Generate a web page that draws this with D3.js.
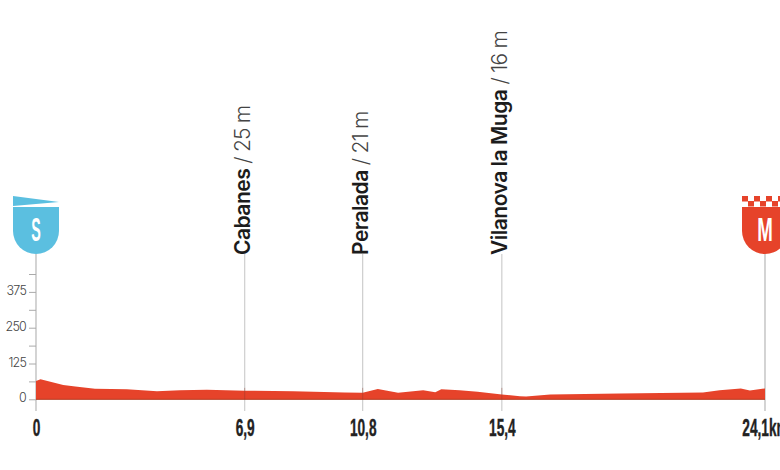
<!DOCTYPE html>
<html>
<head>
<meta charset="utf-8">
<script src="https://cdn.jsdelivr.net/npm/d3@7"></script>
<style>
html, body { margin: 0; padding: 0; background: #fff; overflow: hidden; }
svg { display: block; }
</style>
</head>
<body>
<div id="chart"></div>
<script>
// profile
const profileKm = [0, 0.15, 0.9, 1.3, 1.95, 3, 4, 4.76, 5.65, 6.9, 8.5, 10.2, 10.8, 11.3, 11.97, 12.8, 13.2, 13.4, 14, 14.6, 15.4, 16, 16.2, 17, 19.3, 22.05, 22.6, 23.3, 23.6, 24.1];
const profileElev = [64, 70, 50, 45, 37, 35, 28, 32, 33, 30, 28, 24, 23, 36, 23, 32, 25, 35, 32, 26, 17, 11, 10, 17, 20, 24, 32, 38, 31, 38];

const yTicks = [0, 62.5, 125, 187.5, 250, 312.5, 375, 437.5];
const yLabels = [0, 125, 250, 375];

const places = ["Cabanes", "Peralada", "Vilanova la Muga"];
const placeKm = [6.9, 10.8, 15.4];
const placeAlt = ["25 m", "21 m", "16 m"];

const xTicks = [0, 6.9, 10.8, 15.4, 24.1];
const xLabels = ["0", "6,9", "10,8", "15,4", "24,1km"];

const width = 780, height = 470;
const red = "#e6432a", blue = "#5bbfe0", grey = "#c9c9c9";

const svg = d3.select("#chart").append("svg")
    .attr("width", width)
    .attr("height", height);

const x = d3.scaleLinear().domain([0, 24.1]).range([36, 765]);
const y = d3.scaleLinear().domain([0, 125]).range([399.3, 363.5]);

const guideTop = 254, guideBottom = 411;

// vertical guide lines
svg.selectAll(".guide")
    .data(xTicks)
    .enter().append("line")
    .attr("class", "guide")
    .attr("x1", d => x(d)).attr("x2", d => x(d))
    .attr("y1", guideTop).attr("y2", guideBottom)
    .attr("stroke", grey)
    .attr("stroke-width", d => (d === 0 || d === 24.1) ? 1.6 : 1.1);

// y axis, ticks only
const yAxis = svg.append("g")
    .attr("transform", `translate(${x(0)},0)`)
    .call(d3.axisLeft(y)
        .tickValues(yTicks)
        .tickSize(7)
        .tickPadding(3)
        .tickFormat(d => yLabels.includes(d) ? d : ""));
yAxis.select(".domain").remove();
yAxis.selectAll("line").attr("stroke", "#aaa").attr("stroke-width", 1);
yAxis.selectAll("text")
    .attr("y", -1.5)
    .attr("fill", "#444")
    .style("font-family", "Inter, sans-serif")
    .style("font-weight", 300)
    .style("font-size", "12.5px")
    .style("letter-spacing", "-0.8px");

// profile
const area = d3.area()
    .x((d, i) => x(profileKm[i]))
    .y0(y(0))
    .y1(d => y(d));
svg.append("path")
    .datum(profileElev)
    .attr("d", area)
    .attr("fill", red);
svg.append("line")
    .attr("x1", x(0)).attr("x2", x(24.1))
    .attr("y1", y(0)).attr("y2", y(0))
    .attr("stroke", "#b5391f")
    .attr("stroke-width", 1);

// guide lines show faintly over the profile
svg.selectAll(".over")
    .data(placeKm)
    .enter().append("line")
    .attr("class", "over")
    .attr("x1", d => x(d)).attr("x2", d => x(d))
    .attr("y1", y(40)).attr("y2", y(0))
    .attr("stroke", "#8a3a2a")
    .attr("stroke-opacity", 0.4);

// x labels, squeezed since there is no condensed face
const xAxis = svg.append("g")
    .attr("transform", `translate(0,${guideBottom})`)
    .call(d3.axisBottom(x)
        .tickValues(xTicks)
        .tickSize(0)
        .tickFormat((d, i) => xLabels[i]));
xAxis.select(".domain").remove();
xAxis.selectAll("text")
    .attr("y", 0)
    .attr("dy", 0)
    .attr("fill", "#222")
    .attr("stroke", "#222")
    .attr("stroke-width", 0.4)
    .attr("transform", "translate(0,25) scale(0.57,1)")
    .style("font-family", "'Liberation Sans', sans-serif")
    .style("font-weight", 700)
    .style("font-size", "24px");

// place labels
const labels = svg.selectAll(".place")
    .data(places)
    .enter().append("text")
    .attr("class", "place")
    .attr("transform", (d, i) => `translate(${x(placeKm[i]) + 5.5},255) rotate(-90)`)
    .style("font-family", "Inter, sans-serif")
    .style("font-size", "21px");
labels.append("tspan")
    .attr("font-weight", 600)
    .attr("fill", "#1c1c1c")
    .style("letter-spacing", "-0.5px")
    .text(d => d);
labels.append("tspan")
    .attr("font-weight", 300)
    .attr("fill", "#444")
    .style("letter-spacing", "-0.8px")
    .text((d, i) => " / " + placeAlt[i]);

// start and finish shields
const shield = "M-23,0H23V24A23,23 0 0 1 -23,24Z";
const start = svg.append("g").attr("transform", `translate(${x(0)},207)`);
start.append("path").attr("d", shield).attr("fill", blue);
start.append("path").attr("d", "M-23,-11L23,-5L-23,-1Z").attr("fill", blue);
const finish = svg.append("g").attr("transform", `translate(${x(24.1)},207)`);
finish.append("path").attr("d", shield).attr("fill", red);
d3.range(8).forEach(i => {
    finish.append("rect")
        .attr("x", -23 + i * 6)
        .attr("y", i % 2 ? -6 : -11)
        .attr("width", 6)
        .attr("height", 5.5)
        .attr("fill", red);
});
[[start, "S", 0.42], [finish, "M", 0.55]].forEach(([g, letter, sx]) => {
    g.append("text")
        .attr("transform", `translate(0,34) scale(${sx},1)`)
        .attr("text-anchor", "middle")
        .attr("fill", "#fff")
        .style("font-family", "'Liberation Sans', sans-serif")
        .style("font-weight", 700)
        .style("font-size", "34px")
        .text(letter);
});
</script>
</body>
</html>
